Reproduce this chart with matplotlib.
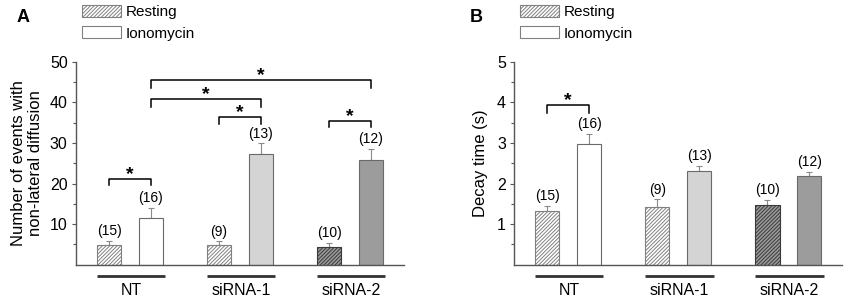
import matplotlib
matplotlib.use("Agg")
import matplotlib.pyplot as plt
import matplotlib.transforms as mtransforms
from matplotlib.patches import Patch
import numpy as np

plt.rcParams['font.family'] = ['Liberation Sans', 'DejaVu Sans']
plt.rcParams['hatch.linewidth'] = 0.7

groups = ["NT", "siRNA-1", "siRNA-2"]
series = ["Resting", "Ionomycin"]
n_resting = ["(15)", "(9)", "(10)"]
n_iono = ["(16)", "(13)", "(12)"]

# Panel A: number of events with non-lateral diffusion
a_rest = [4.8, 4.8, 4.4]
a_rest_err = [1.0, 0.9, 1.0]
a_iono = [11.6, 27.4, 25.7]
a_iono_err = [2.3, 2.5, 2.8]

# Panel B: decay time (s)
b_rest = [1.33, 1.43, 1.47]
b_rest_err = [0.11, 0.18, 0.12]
b_iono = [2.98, 2.30, 2.19]
b_iono_err = [0.24, 0.14, 0.09]

# significance comparisons: ((group, series), (group, series), bracket height, leg drop)
a_sig = [((0, 0), (0, 1), 21.1, 1.5),
         ((1, 0), (1, 1), 36.5, 1.8),
         ((0, 1), (1, 1), 40.9, 2.0),
         ((0, 1), (2, 1), 45.5, 1.9),
         ((2, 0), (2, 1), 35.5, 1.6)]
b_sig = [((0, 0), (0, 1), 3.93, 0.19)]

rest_face = ["white", "white", "#9a9a9a"]
rest_edge = ["#808080", "#808080", "#3a3a3a"]
iono_face = ["white", "#d4d4d4", "#9c9c9c"]
iono_edge = "#6a6a6a"

offset = 0.19
width = 0.22
xg = np.arange(len(groups))
HATCH = '/////////'

fig = plt.figure(figsize=(8.5, 3.02), dpi=100)
ax_h = 202.5 / 302
ax_b = (302 - 264.5) / 302
axA = fig.add_axes([76 / 850, ax_b, 328 / 850, ax_h])
axB = fig.add_axes([514.3 / 850, ax_b, 328 / 850, ax_h])


def draw(ax, rest, rest_err, iono, iono_err, sig, ymax, major, minor, ylabel, lab_x):
    xr = xg - offset
    xi = xg + offset
    for i in range(len(groups)):
        ax.bar(xr[i], rest[i], width, facecolor=rest_face[i], edgecolor=rest_edge[i],
               hatch=HATCH, linewidth=0.8, zorder=2)
        ax.bar(xi[i], iono[i], width, facecolor=iono_face[i], edgecolor=iono_edge,
               linewidth=0.8, zorder=2)
    ax.errorbar(xr, rest, yerr=[np.zeros(3), rest_err], fmt='none', ecolor='#8a8a8a',
                elinewidth=0.8, capsize=2, capthick=0.8, zorder=1)
    ax.errorbar(xi, iono, yerr=[np.zeros(3), iono_err], fmt='none', ecolor='#8a8a8a',
                elinewidth=0.8, capsize=2, capthick=0.8, zorder=1)
    for i in range(len(groups)):
        ax.annotate(n_resting[i], (xr[i], rest[i] + rest_err[i]), xytext=(0, 2),
                    textcoords='offset points', ha='center', va='bottom', fontsize=10)
        ax.annotate(n_iono[i], (xi[i], iono[i] + iono_err[i]), xytext=(0, 2),
                    textcoords='offset points', ha='center', va='bottom', fontsize=10)
    for (g1, s1), (g2, s2), h, d in sig:
        x1 = xg[g1] + (offset if s1 else -offset)
        x2 = xg[g2] + (offset if s2 else -offset)
        ax.plot([x1, x1, x2, x2], [h - d, h, h, h - d], color='black', lw=1.1,
                clip_on=False, zorder=3)
        ax.annotate('*', ((x1 + x2) / 2, h), xytext=(0, -3), textcoords='offset points',
                    ha='center', va='bottom', fontsize=14, fontweight='bold')
    ax.set_xlim(-0.49, 2.49)
    ax.set_ylim(0, ymax)
    ax.set_yticks(major)
    ax.set_yticks(minor, minor=True)
    ax.set_xticks([])
    for s in ['top', 'right']:
        ax.spines[s].set_visible(False)
    for s in ['left', 'bottom']:
        ax.spines[s].set_color('#555555')
        ax.spines[s].set_linewidth(1.0)
    ax.tick_params(axis='y', which='major', length=3, width=0.8, color='#555555',
                   labelsize=11.5, pad=3)
    ax.tick_params(axis='y', which='minor', length=2, width=0.8, color='#555555')
    ax.set_ylabel(ylabel, fontsize=12, linespacing=1.15)
    ax.yaxis.set_label_coords(lab_x, 0.5)
    trans = mtransforms.blended_transform_factory(ax.transData, ax.transAxes)
    for i, g in enumerate(groups):
        ax.plot([xg[i] - 0.3, xg[i] + 0.32], [-0.057, -0.057], color='#333333', lw=2,
                transform=trans, clip_on=False, solid_capstyle='butt')
        ax.text(xg[i] + 0.01, -0.128, g, transform=trans, ha='center', va='center',
                fontsize=11.5)
    return ax


draw(axA, a_rest, a_rest_err, a_iono, a_iono_err, a_sig, 50,
     [10, 20, 30, 40, 50], [5, 15, 25, 35, 45],
     "Number of events with\nnon-lateral diffusion", -0.10)
draw(axB, b_rest, b_rest_err, b_iono, b_iono_err, b_sig, 5,
     [1, 2, 3, 4, 5], [0.5, 1.5, 2.5, 3.5, 4.5],
     "Decay time (s)", -0.08)

fig.text(17 / 850, 1 - 17 / 302, "A", fontsize=13, fontweight='bold', ha='left', va='center')
fig.text(470 / 850, 1 - 17 / 302, "B", fontsize=13, fontweight='bold', ha='left', va='center')

handles = [Patch(facecolor='white', edgecolor='#808080', hatch=HATCH, linewidth=0.8),
           Patch(facecolor='white', edgecolor='#808080', linewidth=0.8)]
for xpos in [82 / 850, 520 / 850]:
    fig.legend(handles, series, loc='upper left', bbox_to_anchor=(xpos, 1 - 5 / 302),
               frameon=False, fontsize=11, handlelength=2.55, handleheight=0.85,
               handletextpad=0.3, labelspacing=0.45, borderpad=0, borderaxespad=0)

fig.savefig("out.png", dpi=100)
